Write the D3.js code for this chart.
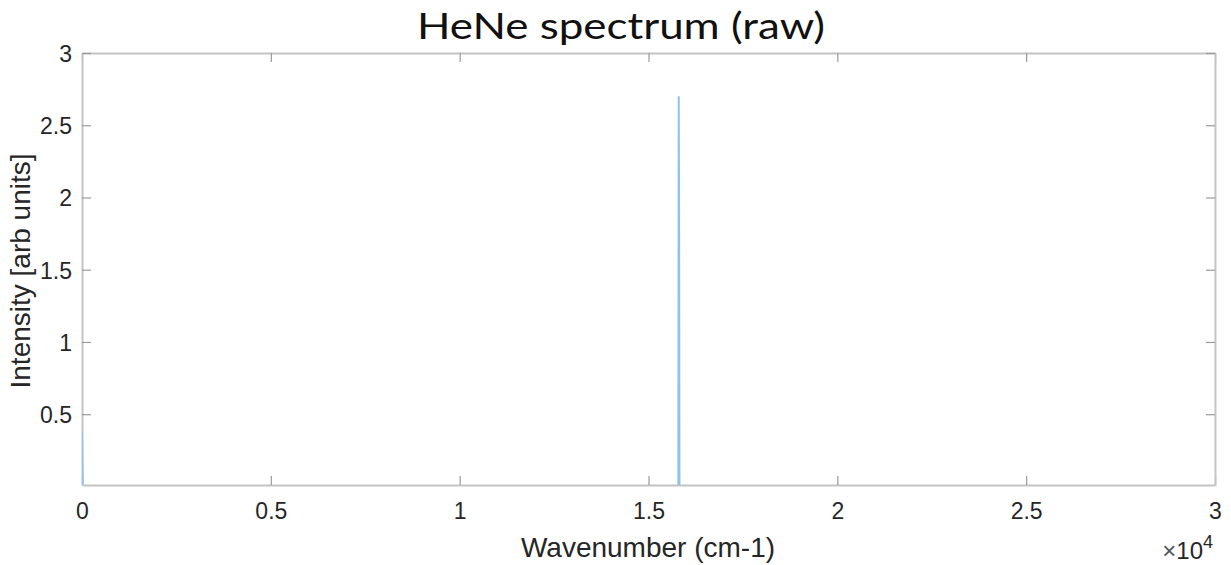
<!DOCTYPE html>
<html>
<head>
<meta charset="utf-8">
<script src="https://cdn.jsdelivr.net/npm/d3@7/dist/d3.min.js"></script>
<style>
  html, body { margin: 0; padding: 0; background: #fff; }
  svg { display: block; }
</style>
</head>
<body>
<svg id="chart" width="1231" height="565"></svg>
<script>
// Raw HeNe spectrum: wavenumber (cm^-1) and detector intensity
const wavenumber = [0, 8, 20, 60, 200, 5000, 10000, 15000, 15740, 15770, 15790, 15800, 15810, 15820, 15840, 15870, 16000, 20000, 25000, 30000];
const intensity  = [0.38, 0.2, 0.0, 0.0, 0.0, 0.0, 0.0, 0.0, 0.0, 0.0, 0.0, 2.7, 1.9, 0.0, 0.0, 0.0, 0.0, 0.0, 0.0, 0.0];

const xTicks = [0, 5000, 10000, 15000, 20000, 25000, 30000];
const xTickLabels = ["0", "0.5", "1", "1.5", "2", "2.5", "3"];
const yTicks = [0.5, 1, 1.5, 2, 2.5, 3];
const yTickLabels = ["0.5", "1", "1.5", "2", "2.5", "3"];

const chartTitle = "HeNe spectrum (raw)";
const xLabel = "Wavenumber (cm-1)";
const yLabel = "Intensity [arb units]";

const svg = d3.select("#chart");
const plotL = 82, plotR = 1215, plotT = 53, plotB = 485;

const x = d3.scaleLinear().domain([0, 30000]).range([plotL, plotR]);
const y = d3.scaleLinear().domain([0.01, 3]).range([plotB, plotT]);

const axisColor = "#c4c4c4";
const textColor = "#262626";
const font = "Liberation Sans, Arial, Helvetica, sans-serif";
const tickFont = 23;
const labelFont = 28;

svg.append("defs").append("clipPath").attr("id", "plotclip")
  .append("rect").attr("x", plotL).attr("y", plotT)
  .attr("width", plotR - plotL).attr("height", plotB - plotT);

// Box and ticks
const tickLen = 9;
function styleAxis(g) {
  g.select(".domain").attr("stroke", axisColor).attr("stroke-width", 2);
  g.selectAll(".tick line").attr("stroke", "#9a9a9a").attr("stroke-width", 1.2);
}

const gx = svg.append("g").attr("transform", `translate(0,${plotB})`)
  .call(d3.axisBottom(x).tickValues(xTicks).tickSizeInner(-tickLen).tickSizeOuter(0)
    .tickFormat((d, i) => xTickLabels[i]));
styleAxis(gx);
gx.selectAll(".tick text").attr("fill", textColor).attr("font-family", font)
  .attr("font-size", tickFont).attr("dy", 0).attr("y", 34);

const gxTop = svg.append("g").attr("transform", `translate(0,${plotT})`)
  .call(d3.axisTop(x).tickValues(xTicks).tickSizeInner(-tickLen).tickSizeOuter(0).tickFormat(""));
styleAxis(gxTop);

const gy = svg.append("g").attr("transform", `translate(${plotL},0)`)
  .call(d3.axisLeft(y).tickValues(yTicks).tickSizeInner(-tickLen).tickSizeOuter(0)
    .tickFormat((d, i) => yTickLabels[i]));
styleAxis(gy);
gy.selectAll(".tick text").attr("fill", textColor).attr("font-family", font)
  .attr("font-size", tickFont).attr("x", -10).attr("dy", "0.36em");

const gyRight = svg.append("g").attr("transform", `translate(${plotR},0)`)
  .call(d3.axisRight(y).tickValues(yTicks).tickSizeInner(-tickLen).tickSizeOuter(0).tickFormat(""));
styleAxis(gyRight);

// Spectrum trace
const line = d3.line().x((d, i) => x(wavenumber[i])).y(d => y(d));
svg.append("path")
  .datum(intensity)
  .attr("clip-path", "url(#plotclip)")
  .attr("fill", "none")
  .attr("stroke", "#8fc3ea")
  .attr("stroke-width", 2)
  .attr("d", line);

// Titles and labels
svg.append("text")
  .attr("x", 621).attr("y", 39)
  .attr("text-anchor", "middle")
  .attr("font-family", "Lato, 'Open Sans', sans-serif")
  .attr("font-size", 36)
  .attr("fill", "#111")
  .attr("textLength", 408)
  .attr("lengthAdjust", "spacingAndGlyphs")
  .text(chartTitle);

svg.append("text")
  .attr("x", 648).attr("y", 557)
  .attr("text-anchor", "middle")
  .attr("font-family", font)
  .attr("font-size", labelFont)
  .attr("fill", textColor)
  .text(xLabel);

svg.append("text")
  .attr("transform", `translate(30,271) rotate(-90)`)
  .attr("text-anchor", "middle")
  .attr("font-family", font)
  .attr("font-size", labelFont)
  .attr("fill", textColor)
  .text(yLabel);

// Exponent for the x axis
const expo = svg.append("text")
  .attr("x", 1213).attr("y", 559)
  .attr("text-anchor", "end")
  .attr("font-family", font)
  .attr("font-size", 24)
  .attr("fill", textColor);
expo.append("tspan").attr("fill", "#555").text("\u00d7");
expo.append("tspan").text("10");
expo.append("tspan").attr("dy", -11).attr("font-size", 18).text("4");
</script>
</body>
</html>
